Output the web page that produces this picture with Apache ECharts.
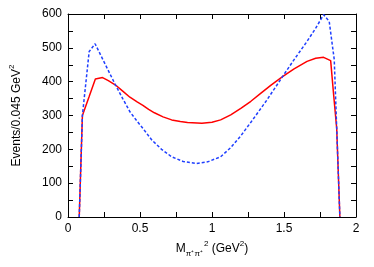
<!DOCTYPE html>
<html>
<head>
<meta charset="utf-8">
<script src="https://cdn.jsdelivr.net/npm/echarts@6/dist/echarts.min.js"></script>
<style>html,body{margin:0;padding:0;background:#fff}#c{width:374px;height:267px}</style>
</head>
<body>
<div id="c"></div>
<script>
const redX = [0.078, 0.10, 0.147, 0.19, 0.24, 0.28, 0.33, 0.38, 0.43, 0.48, 0.52, 0.56, 0.60, 0.66, 0.72, 0.78, 0.83, 0.93, 1.00, 1.06, 1.13, 1.20, 1.27, 1.34, 1.41, 1.49, 1.57, 1.66, 1.72, 1.775, 1.824, 1.845, 1.866, 1.888];
const redY = [0, 300, 356, 408, 412, 403, 390, 372, 354, 340, 330, 318, 308, 296, 287, 282, 279, 277, 280, 287, 302, 321, 342, 366, 390, 415, 438, 460, 469, 472, 462, 360, 262, 0];
const blueX = [0.078, 0.10, 0.147, 0.188, 0.26, 0.33, 0.38, 0.43, 0.48, 0.52, 0.583, 0.65, 0.72, 0.80, 0.89, 0.97, 1.06, 1.13, 1.20, 1.27, 1.38, 1.49, 1.57, 1.66, 1.72, 1.775, 1.814, 1.849, 1.866, 1.888];
const blueY = [0, 300, 489, 512, 450, 390, 350, 311, 283, 262, 227, 200, 178, 164, 158, 163, 178, 205, 240, 280, 345, 415, 465, 519, 558, 598, 578, 465, 262, 0];
const xTicks = [0, 0.5, 1, 1.5, 2];
const yTicks = [0, 100, 200, 300, 400, 500, 600];

const font = 'Liberation Sans, Arial, sans-serif';
const chart = echarts.init(document.getElementById('c'), null, {renderer: 'canvas'});
const pair = (xs, ys) => xs.map((x, i) => [x, ys[i]]);
const baseAxis = {
  axisLine: {show: true, onZero: false, lineStyle: {color: '#000', width: 1}},
  axisTick: {show: true, inside: true, length: 5, lineStyle: {color: '#000'}},
  minorTick: {show: true, splitNumber: 2, length: 5, lineStyle: {color: '#000'}},
  splitLine: {show: false}
};
chart.setOption({
  animation: false,
  grid: {left: 65, right: 18, top: 14, bottom: 50},
  xAxis: [
    Object.assign({}, baseAxis, {
      type: 'value', min: xTicks[0], max: xTicks[xTicks.length - 1], interval: 0.5,
      axisLabel: {color: '#000', fontSize: 12, fontFamily: font, margin: 6,
        formatter: v => xTicks.includes(v) ? String(v) : ''},
      name: '{a|M}{sub|π⁺π⁺}{sup|2}{a| (GeV}{sup2|2}{a|)}',
      nameLocation: 'middle', nameGap: 22,
      nameTextStyle: {
        rich: {
          a: {fontSize: 12, fontFamily: font, color: '#000', lineHeight: 18, verticalAlign: 'middle'},
          sub: {fontSize: 8, fontFamily: font, color: '#000', lineHeight: 8, verticalAlign: 'bottom'},
          sup: {fontSize: 8, fontFamily: font, color: '#000', lineHeight: 8, verticalAlign: 'top', padding: [0, 0, 0, 1]},
          sup2: {fontSize: 8, fontFamily: font, color: '#000', lineHeight: 8, verticalAlign: 'top'}
        }
      }
    }),
    Object.assign({}, baseAxis, {
      type: 'value', position: 'top', min: 0, max: 2, interval: 0.5,
      axisLabel: {show: false}
    })
  ],
  yAxis: [
    Object.assign({}, baseAxis, {
      type: 'value', min: yTicks[0], max: yTicks[yTicks.length - 1], interval: 100,
      axisLabel: {color: '#000', fontSize: 12, fontFamily: font, margin: 6},
      name: '{a|Events/0.045 GeV}{sup|2}',
      nameLocation: 'middle', nameGap: 42, nameRotate: 90,
      nameTextStyle: {
        rich: {
          a: {fontSize: 12, fontFamily: font, color: '#000', lineHeight: 18, verticalAlign: 'middle'},
          sup: {fontSize: 8, fontFamily: font, color: '#000', lineHeight: 8, verticalAlign: 'top'}
        }
      }
    }),
    Object.assign({}, baseAxis, {
      type: 'value', position: 'right', min: 0, max: 600, interval: 100,
      axisLabel: {show: false}
    })
  ],
  series: [
    {type: 'line', xAxisIndex: 0, yAxisIndex: 0, data: pair(redX, redY), showSymbol: false, symbol: 'none',
      lineStyle: {color: '#ff0000', width: 1.5}, z: 2},
    {type: 'line', xAxisIndex: 0, yAxisIndex: 0, data: pair(blueX, blueY), showSymbol: false, symbol: 'none',
      lineStyle: {color: '#1f3fff', width: 1.5, type: [3, 2]}, z: 3}
  ]
});
</script>
</body>
</html>
